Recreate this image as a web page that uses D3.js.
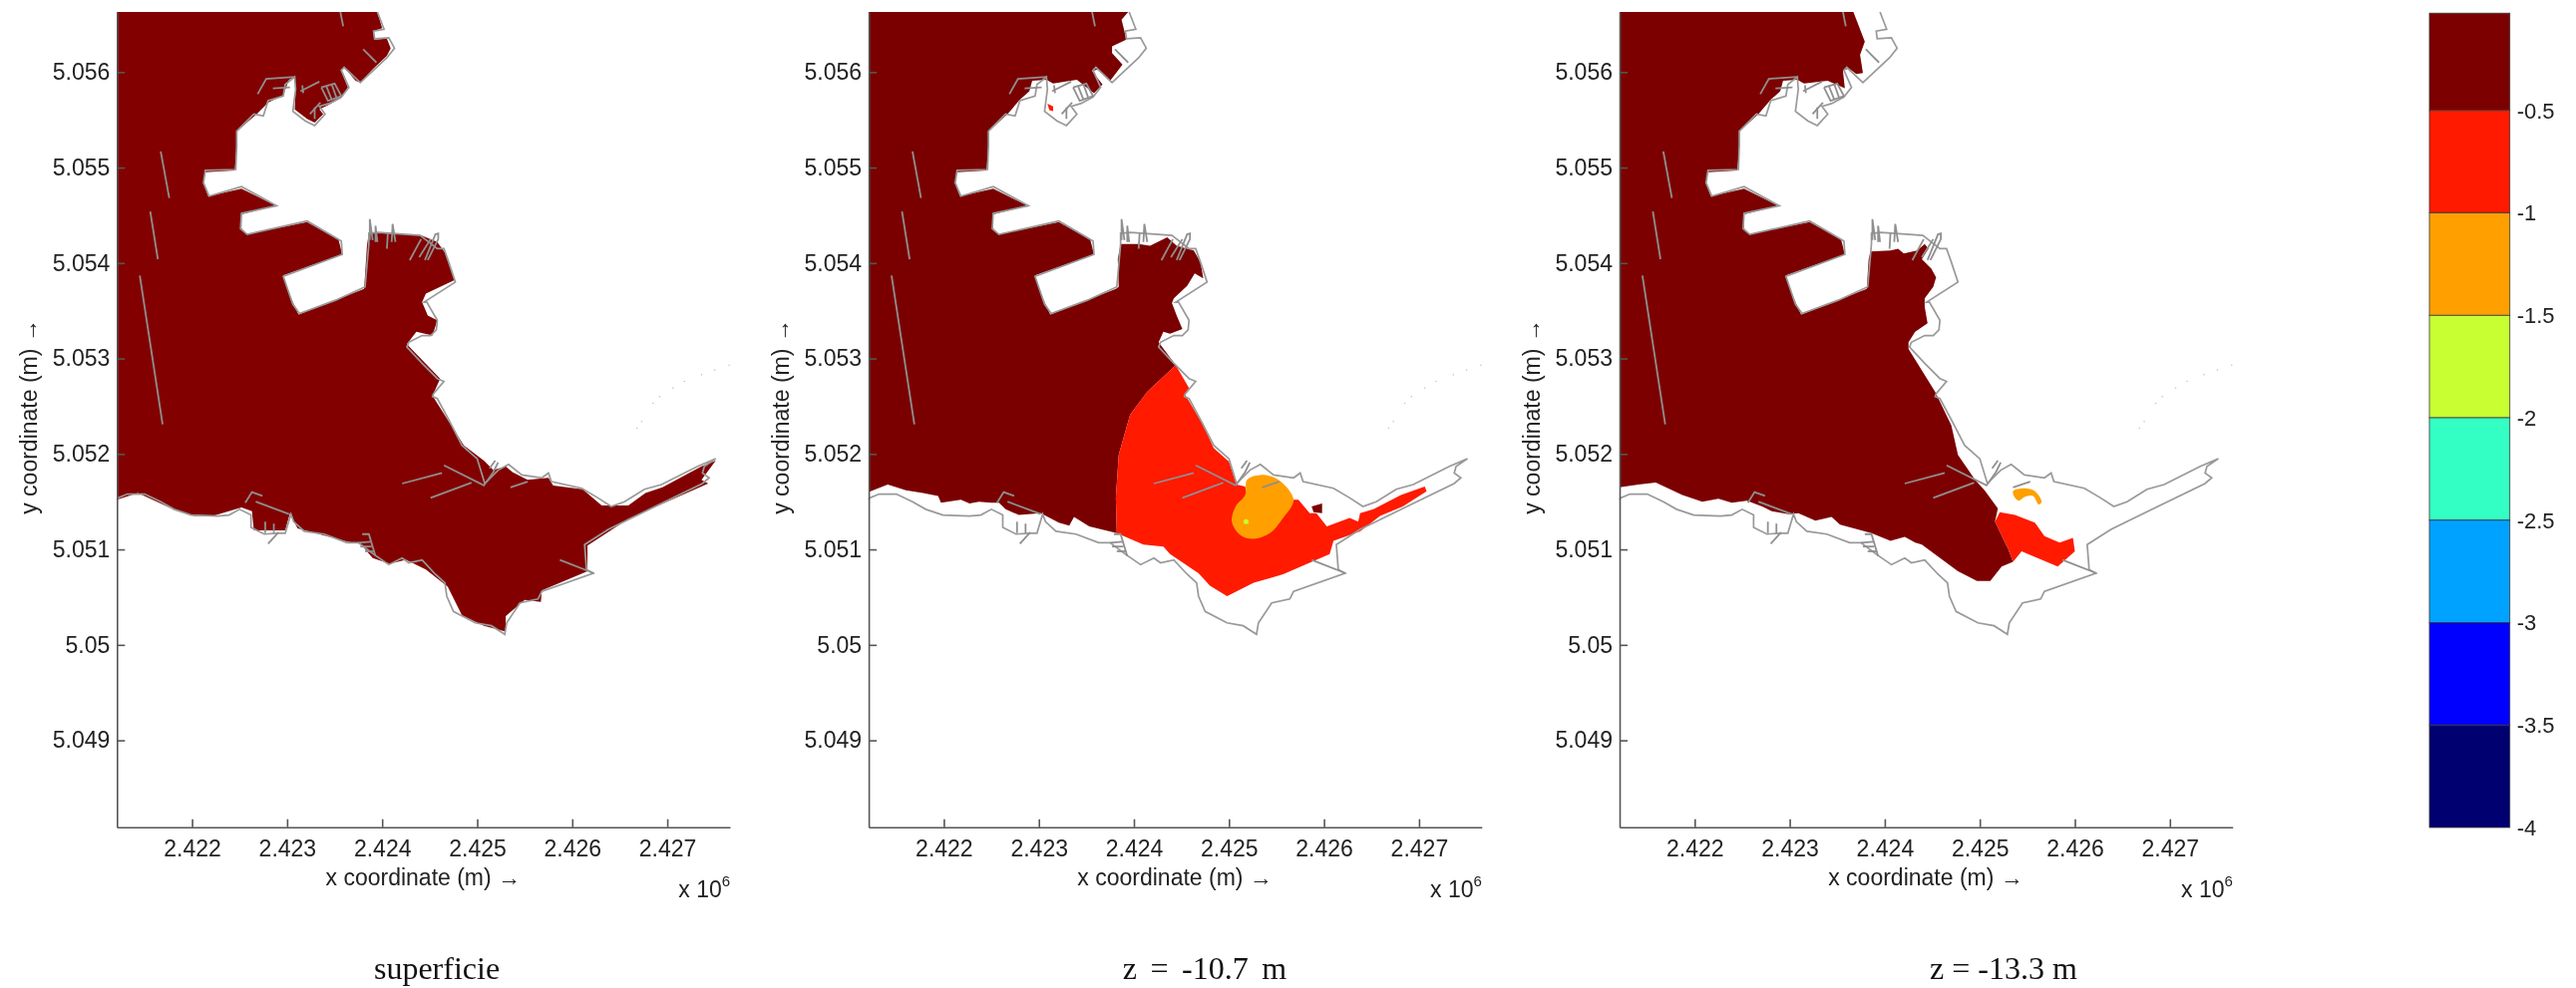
<!DOCTYPE html>
<html>
<head>
<meta charset="utf-8">
<script src="https://cdn.jsdelivr.net/npm/d3@7"></script>
<style>
  html, body { margin: 0; background: #fff; }
  svg { display: block; filter: blur(0.5px); }
  .axis path, .axis line { stroke: #555; stroke-width: 1.6; }
  .axis text { font: 23px "Liberation Sans", Arial, sans-serif; fill: #222; }
  .lab { font: 23px "Liberation Sans", Arial, sans-serif; fill: #222; }
  .cap { font: 32px "Liberation Serif", "Times New Roman", serif; fill: #111; }
</style>
</head>
<body>
<svg id="chart" width="2583" height="991"></svg>
<script>
// all map positions are in km (Gauss-Boaga style easting / northing)
const xTicks = [2422, 2423, 2424, 2425, 2426, 2427];
const xTickLabels = ["2.422", "2.423", "2.424", "2.425", "2.426", "2.427"];
const yTicks = [5049, 5050, 5051, 5052, 5053, 5054, 5055, 5056];
const yTickLabels = ["5.049", "5.05", "5.051", "5.052", "5.053", "5.054", "5.055", "5.056"];

const captions = ["superficie", "z = -10.7 m", "z = -13.3 m"];

const levelEdges = [-0.025, -0.5, -1, -1.5, -2, -2.5, -3, -3.5, -4];
const levelColors = ["#7c0000", "#ff1a00", "#ffa000", "#c8ff33", "#33ffc4", "#00a2ff", "#0000ff", "#000070"];
const levelTicks = [-0.5, -1, -1.5, -2, -2.5, -3, -3.5, -4];

// shore of the western basins, shared by the three water areas
const harbourShore = [[2422.47,5055.38],[2422.47,5055.23],[2422.45,5054.97],[2422.14,5054.95],[2422.12,5054.84],[2422.17,5054.70],[2422.52,5054.78],[2422.88,5054.60],[2422.52,5054.51],[2422.52,5054.36],[2422.57,5054.30],[2423.21,5054.43],[2423.54,5054.25],[2423.58,5054.09],[2422.96,5053.87],[2423.03,5053.66],[2423.12,5053.46],[2423.81,5053.73]];

const surfaceNorth = [[2421.21,5056.63],[2423.95,5056.63],[2424.00,5056.46],[2423.91,5056.43],[2423.92,5056.34],[2424.05,5056.35],[2424.09,5056.25],[2424.05,5056.17],[2423.90,5056.03],[2423.77,5055.89],[2423.72,5055.91],[2423.60,5056.05],[2423.57,5056.01],[2423.64,5055.84],[2423.57,5055.73],[2423.44,5055.66],[2423.34,5055.61],[2423.38,5055.56],[2423.29,5055.47],[2423.21,5055.51],[2423.08,5055.61],[2423.09,5055.82],[2423.08,5055.95],[2423.02,5055.92],[2422.96,5055.76],[2422.80,5055.68],[2422.68,5055.56]];
const surfaceEast = [[2423.84,5054.18],[2423.86,5054.32],[2424.41,5054.29],[2424.58,5054.22],[2424.66,5054.11],[2424.76,5053.82],[2424.46,5053.68],[2424.42,5053.59],[2424.48,5053.45],[2424.58,5053.40],[2424.53,5053.24],[2424.36,5053.28],[2424.26,5053.15],[2424.61,5052.79],[2424.53,5052.61],[2424.86,5052.09],[2425.07,5051.93],[2425.17,5051.83],[2425.30,5051.87],[2425.37,5051.81],[2425.53,5051.73],[2425.75,5051.75],[2425.80,5051.67],[2426.11,5051.63],[2426.31,5051.46],[2426.59,5051.46],[2426.77,5051.59],[2426.95,5051.65],[2427.36,5051.87],[2427.51,5051.93],[2427.36,5051.73],[2427.43,5051.69],[2426.59,5051.32],[2426.16,5051.04],[2426.16,5050.77],[2425.68,5050.57],[2425.67,5050.45],[2425.50,5050.47],[2425.30,5050.30],[2425.30,5050.14],[2425.07,5050.20],[2424.84,5050.31],[2424.69,5050.61],[2424.46,5050.79],[2424.25,5050.89],[2424.08,5050.85],[2423.90,5050.91],[2423.77,5051.06],[2423.64,5051.08],[2423.11,5051.22],[2423.03,5051.38],[2422.98,5051.20],[2422.65,5051.20],[2422.63,5051.40],[2422.52,5051.44],[2422.22,5051.35],[2422.02,5051.35],[2421.76,5051.44],[2421.43,5051.59],[2421.21,5051.52]];

// z = -10.7 m
const midNorth = [[2421.21,5056.63],[2423.94,5056.63],[2423.87,5056.55],[2423.90,5056.43],[2423.92,5056.34],[2423.77,5056.27],[2423.77,5056.20],[2423.88,5056.08],[2423.75,5055.91],[2423.63,5056.03],[2423.56,5056.01],[2423.67,5055.87],[2423.58,5055.78],[2423.40,5055.92],[2423.15,5055.88],[2423.08,5055.92],[2422.93,5055.91],[2422.90,5055.80],[2422.80,5055.71],[2422.67,5055.56]];
const midEast = [[2423.84,5053.75],[2423.83,5054.04],[2423.86,5054.20],[2424.05,5054.20],[2424.17,5054.18],[2424.35,5054.27],[2424.45,5054.18],[2424.63,5054.13],[2424.70,5054.01],[2424.73,5053.84],[2424.64,5053.89],[2424.56,5053.76],[2424.42,5053.63],[2424.40,5053.58],[2424.45,5053.45],[2424.51,5053.31],[2424.38,5053.26],[2424.31,5053.28],[2424.26,5053.17],[2424.44,5052.93],[2424.14,5052.65],[2423.96,5052.41],[2423.84,5051.99],[2423.81,5051.54],[2423.82,5051.17],[2423.53,5051.24],[2423.37,5051.34],[2423.32,5051.25],[2423.21,5051.28],[2423.02,5051.38],[2422.79,5051.36],[2422.65,5051.42],[2422.58,5051.49],[2422.50,5051.49],[2422.37,5051.50],[2422.27,5051.48],[2422.18,5051.52],[2421.97,5051.49],[2421.94,5051.56],[2421.78,5051.59],[2421.60,5051.62],[2421.41,5051.68],[2421.21,5051.60]];
const midRed = [[2424.44,5052.93],[2424.58,5052.69],[2424.54,5052.62],[2424.73,5052.30],[2424.84,5052.06],[2425.00,5051.92],[2425.08,5051.68],[2425.17,5051.66],[2425.19,5051.57],[2425.68,5051.52],[2425.73,5051.52],[2425.85,5051.38],[2425.92,5051.38],[2426.03,5051.24],[2426.27,5051.33],[2426.36,5051.29],[2426.38,5051.38],[2426.52,5051.42],[2426.81,5051.57],[2427.06,5051.66],[2427.08,5051.61],[2426.83,5051.45],[2426.59,5051.35],[2426.38,5051.19],[2426.10,5051.09],[2426.06,5050.95],[2425.57,5050.74],[2425.26,5050.65],[2424.98,5050.51],[2424.80,5050.62],[2424.68,5050.75],[2424.38,5050.95],[2424.31,5051.03],[2424.10,5051.05],[2423.82,5051.17],[2423.81,5051.54],[2423.84,5051.99],[2423.96,5052.41],[2424.14,5052.65]];
const midOrange = [[2425.19,5051.73],[2425.33,5051.78],[2425.52,5051.73],[2425.68,5051.52],[2425.57,5051.33],[2425.43,5051.17],[2425.26,5051.11],[2425.12,5051.15],[2425.03,5051.29],[2425.07,5051.45],[2425.17,5051.57]];
const midDarkSpot = [[2425.87,5051.45],[2425.98,5051.48],[2425.98,5051.38],[2425.89,5051.39]];
const midRedSpot = [[2423.09,5055.67],[2423.15,5055.64],[2423.15,5055.59],[2423.11,5055.60]];
const midMaxPoint = [2425.18, 5051.29];

// z = -13.3 m
const deepNorth = [[2421.21,5056.63],[2423.67,5056.63],[2423.79,5056.32],[2423.74,5056.18],[2423.77,5055.99],[2423.70,5055.98],[2423.62,5056.04],[2423.56,5056.01],[2423.58,5055.83],[2423.44,5055.89],[2423.40,5055.91],[2423.15,5055.88],[2423.08,5055.92],[2422.93,5055.91],[2422.90,5055.80],[2422.80,5055.71],[2422.67,5055.56]];
const deepEast = [[2423.81,5053.73],[2423.83,5054.04],[2423.85,5054.12],[2424.06,5054.13],[2424.14,5054.15],[2424.20,5054.10],[2424.34,5054.13],[2424.42,5054.20],[2424.46,5054.15],[2424.39,5054.04],[2424.49,5053.94],[2424.54,5053.85],[2424.51,5053.75],[2424.42,5053.63],[2424.42,5053.54],[2424.45,5053.37],[2424.32,5053.28],[2424.25,5053.17],[2424.25,5053.10],[2424.53,5052.65],[2424.70,5052.30],[2424.77,5051.99],[2424.95,5051.73],[2425.05,5051.62],[2425.19,5051.43],[2425.16,5051.29],[2425.30,5051.00],[2425.35,5050.87],[2425.23,5050.82],[2425.11,5050.67],[2424.97,5050.67],[2424.77,5050.77],[2424.39,5051.05],[2424.32,5051.07],[2424.21,5051.13],[2424.06,5051.09],[2423.86,5051.17],[2423.53,5051.26],[2423.44,5051.34],[2423.27,5051.30],[2423.09,5051.38],[2422.99,5051.37],[2422.81,5051.40],[2422.71,5051.45],[2422.55,5051.51],[2422.39,5051.49],[2422.25,5051.53],[2422.08,5051.50],[2421.87,5051.57],[2421.59,5051.70],[2421.41,5051.68],[2421.21,5051.65]];
const deepRed = [[2425.16,5051.29],[2425.21,5051.39],[2425.37,5051.36],[2425.58,5051.28],[2425.68,5051.14],[2425.84,5051.07],[2425.98,5051.12],[2426.00,5050.98],[2425.82,5050.82],[2425.44,5050.98],[2425.35,5050.87],[2425.30,5051.00]];
const deepOrange = [[2425.35,5051.61],[2425.47,5051.64],[2425.58,5051.61],[2425.65,5051.50],[2425.62,5051.47],[2425.56,5051.56],[2425.47,5051.55],[2425.41,5051.51],[2425.37,5051.54]];

const coastline = [[2421.21,5051.52],[2421.22,5051.54],[2421.32,5051.58],[2421.50,5051.58],[2421.67,5051.50],[2421.81,5051.42],[2421.99,5051.36],[2422.27,5051.35],[2422.39,5051.36],[2422.50,5051.42],[2422.62,5051.36],[2422.62,5051.23],[2422.76,5051.16],[2422.90,5051.17],[2422.98,5051.17],[2423.04,5051.37],[2423.07,5051.29],[2423.18,5051.19],[2423.39,5051.16],[2423.63,5051.07],[2423.75,5051.07],[2423.91,5050.95],[2424.07,5050.84],[2424.21,5050.91],[2424.28,5050.86],[2424.42,5050.89],[2424.56,5050.74],[2424.66,5050.65],[2424.68,5050.51],[2424.75,5050.35],[2424.98,5050.23],[2425.15,5050.20],[2425.29,5050.11],[2425.31,5050.23],[2425.45,5050.44],[2425.64,5050.48],[2425.68,5050.56],[2426.22,5050.75],[2426.15,5050.79],[2426.13,5051.05],[2426.38,5051.21],[2426.83,5051.43],[2427.37,5051.69],[2427.44,5051.75],[2427.37,5051.80],[2427.39,5051.87],[2427.51,5051.95],[2427.32,5051.87],[2426.94,5051.68],[2426.76,5051.63],[2426.55,5051.50],[2426.41,5051.45],[2426.27,5051.54],[2426.10,5051.64],[2425.78,5051.71],[2425.75,5051.80],[2425.68,5051.75],[2425.47,5051.78],[2425.33,5051.89],[2425.22,5051.83],[2425.08,5051.69],[2425.00,5051.95],[2424.84,5052.09],[2424.70,5052.36],[2424.58,5052.58],[2424.53,5052.60],[2424.54,5052.63],[2424.65,5052.76],[2424.58,5052.79],[2424.42,5052.95],[2424.26,5053.12],[2424.28,5053.17],[2424.42,5053.24],[2424.51,5053.24],[2424.57,5053.30],[2424.58,5053.40],[2424.47,5053.59],[2424.44,5053.59],[2424.77,5053.80],[2424.70,5054.01],[2424.65,5054.15],[2424.58,5054.15],[2424.40,5054.29],[2423.96,5054.32],[2423.86,5054.31],[2423.86,5054.20],[2423.82,5053.75],[2423.51,5053.61],[2423.13,5053.47],[2423.06,5053.57],[2422.96,5053.86],[2423.58,5054.09],[2423.57,5054.23],[2423.21,5054.44],[2422.58,5054.30],[2422.51,5054.36],[2422.52,5054.52],[2422.89,5054.60],[2422.52,5054.80],[2422.18,5054.70],[2422.12,5054.84],[2422.14,5054.97],[2422.46,5054.98],[2422.47,5055.23],[2422.47,5055.38],[2422.65,5055.56],[2422.75,5055.54],[2422.80,5055.70],[2422.96,5055.75],[2422.98,5055.87],[2423.08,5055.95],[2423.09,5055.82],[2423.06,5055.59],[2423.19,5055.49],[2423.29,5055.44],[2423.40,5055.56],[2423.34,5055.64],[2423.44,5055.67],[2423.57,5055.74],[2423.65,5055.84],[2423.57,5056.02],[2423.60,5056.05],[2423.77,5055.89],[2424.05,5056.15],[2424.13,5056.25],[2424.07,5056.36],[2423.92,5056.35],[2423.91,5056.43],[2424.02,5056.45],[2423.95,5056.63]];

// dams, jetties and piers, same in all panels
const jetties = [
  [[2421.67,5055.17],[2421.76,5054.68]],
  [[2421.56,5054.54],[2421.64,5054.04]],
  [[2421.45,5053.87],[2421.69,5052.31]],
  [[2423.56,5056.63],[2423.59,5056.48]],
  [[2423.80,5056.24],[2423.94,5056.10]],
  [[2422.69,5055.77],[2422.78,5055.93],[2423.08,5055.95]],
  [[2423.36,5055.84],[2423.50,5055.88],[2423.57,5055.75],[2423.43,5055.70],[2423.36,5055.84]],
  [[2423.41,5055.86],[2423.47,5055.71]],
  [[2423.47,5055.87],[2423.52,5055.73]],
  [[2423.14,5055.80],[2423.34,5055.90]],
  [[2423.16,5055.86],[2423.17,5055.78]],
  [[2422.85,5055.83],[2423.03,5055.84]],
  [[2423.24,5055.56],[2423.35,5055.68]],
  [[2423.29,5055.63],[2423.29,5055.51]],
  [[2423.87,5054.24],[2423.87,5054.46],[2423.90,5054.24]],
  [[2423.93,5054.22],[2423.93,5054.39],[2423.95,5054.22]],
  [[2424.10,5054.22],[2424.11,5054.41],[2424.14,5054.22]],
  [[2424.05,5054.15],[2424.06,5054.31]],
  [[2424.29,5054.03],[2424.41,5054.25]],
  [[2424.39,5054.06],[2424.51,5054.25]],
  [[2424.45,5054.03],[2424.56,5054.30],[2424.59,5054.31],[2424.59,5054.25],[2424.48,5054.03]],
  [[2424.21,5051.69],[2424.63,5051.80]],
  [[2424.65,5051.88],[2425.07,5051.67],[2425.17,5051.81],[2425.22,5051.91]],
  [[2425.13,5051.85],[2425.19,5051.93]],
  [[2424.51,5051.54],[2424.94,5051.70]],
  [[2425.35,5051.65],[2425.53,5051.71]],
  [[2425.87,5050.89],[2426.23,5050.75]],
  [[2422.80,5051.06],[2422.91,5051.18]],
  [[2422.56,5051.49],[2422.63,5051.60],[2422.74,5051.56]],
  [[2422.67,5051.50],[2423.02,5051.37]],
  [[2422.77,5051.29],[2422.77,5051.17]],
  [[2422.86,5051.27],[2422.86,5051.17]],
  [[2423.79,5051.16],[2423.86,5051.16],[2423.93,5050.93]],
  [[2423.75,5051.07],[2423.88,5051.08]],
  [[2423.77,5051.03],[2423.89,5051.03]],
  [[2423.82,5050.98],[2423.91,5050.98]]
];

// faint offshore buoys
const buoys = [[2426.68,5052.27],[2426.73,5052.34],[2426.85,5052.53],[2426.92,5052.60],[2427.06,5052.69],[2427.18,5052.76],[2427.36,5052.83],[2427.50,5052.88],[2427.65,5052.93]];

const panelLeft = [117.3, 871.1, 1624];
const panelTop = 12, panelWidth = 614.7, panelHeight = 817.7;

const svg = d3.select("#chart");

const x = d3.scaleLinear().domain([2421.21, 2427.66]).range([0, panelWidth]);
const y = d3.scaleLinear().domain([5048.09, 5056.63]).range([panelHeight, 0]);
const ring = d3.line().x(d => x(d[0])).y(d => y(d[1])).curve(d3.curveLinearClosed);
const smooth = d3.line().x(d => x(d[0])).y(d => y(d[1])).curve(d3.curveCatmullRomClosed);
const open = d3.line().x(d => x(d[0])).y(d => y(d[1]));

function drawPanel(i, fills){
    let g = svg.append("g").attr("transform", `translate(${panelLeft[i]},${panelTop})`);

    fills.forEach(f => {
        g.append("path")
            .attr("d", (f.round ? smooth : ring)(f.pts))
            .attr("fill", f.color);
    });

    if (i === 1) {
        g.append("circle")
            .attr("cx", x(midMaxPoint[0]))
            .attr("cy", y(midMaxPoint[1]))
            .attr("r", 2.5)
            .attr("fill", levelColors[3]);
    }

    g.append("path")
        .attr("d", open(coastline))
        .attr("fill", "none")
        .attr("stroke", "#999")
        .attr("stroke-width", 1.7);

    g.selectAll(".jetty").data(jetties).join("path")
        .attr("class", "jetty")
        .attr("d", open)
        .attr("fill", "none")
        .attr("stroke", "#8f8f8f")
        .attr("stroke-width", 1.8);

    g.selectAll(".buoy").data(buoys).join("circle")
        .attr("class", "buoy")
        .attr("cx", d => x(d[0]))
        .attr("cy", d => y(d[1]))
        .attr("r", 0.8)
        .attr("fill", "#c4c4c4");

    // axes, ticks point inwards as in matlab
    g.append("g")
        .attr("class", "axis")
        .attr("transform", `translate(0,${panelHeight})`)
        .call(d3.axisBottom(x).tickValues(xTicks)
            .tickFormat((d, k) => xTickLabels[k])
            .tickSizeInner(-8).tickSizeOuter(0).tickPadding(13));

    g.append("g")
        .attr("class", "axis")
        .call(d3.axisLeft(y).tickValues(yTicks)
            .tickFormat((d, k) => yTickLabels[k])
            .tickSizeInner(-8).tickSizeOuter(0).tickPadding(7));

    g.append("text")
        .attr("class", "lab")
        .attr("x", 307)
        .attr("y", panelHeight + 58)
        .attr("text-anchor", "middle")
        .text("x coordinate (m) \u2192");

    g.append("text")
        .attr("class", "lab")
        .attr("transform", `translate(-80,406) rotate(-90)`)
        .attr("text-anchor", "middle")
        .text("y coordinate (m) \u2192");

    let e = g.append("text")
        .attr("class", "lab")
        .attr("x", 563)
        .attr("y", panelHeight + 70)
        .style("font-size", "23px")
        .text("x 10");
    e.append("tspan")
        .attr("dy", -11)
        .style("font-size", "15px")
        .text("6");
}

drawPanel(0, [
    { pts: surfaceNorth.concat(harbourShore, surfaceEast), color: "#820000" }
]);

drawPanel(1, [
    { pts: midNorth.concat(harbourShore, midEast), color: "#7a0000" },
    { pts: midRed, color: levelColors[1] },
    { pts: midRedSpot, color: levelColors[1] },
    { pts: midDarkSpot, color: "#7a0000" },
    { pts: midOrange, color: levelColors[2], round: true }
]);

drawPanel(2, [
    { pts: deepNorth.concat(harbourShore, deepEast), color: "#7c0000" },
    { pts: deepRed, color: levelColors[1] },
    { pts: deepOrange, color: levelColors[2], round: true }
]);

// bottom captions, the middle one is set wider in the original
const captionX = [438, 1208, 2009];
const captionWordGap = [0, 5.5, 0];
svg.selectAll(".cap").data(captions).join("text")
    .attr("class", "cap")
    .attr("x", (d, i) => captionX[i])
    .attr("y", 982)
    .attr("text-anchor", "middle")
    .style("word-spacing", (d, i) => captionWordGap[i] + "px")
    .text(d => d);

// colour bar
const barLeft = 2436, barWidth = 80.7;
const c = d3.scaleLinear().domain([-4, -0.5]).range([830, 110.8]);

const bar = svg.append("g");
bar.selectAll("rect").data(levelColors).join("rect")
    .attr("x", barLeft)
    .attr("width", barWidth)
    .attr("y", (d, i) => c(levelEdges[i]))
    .attr("height", (d, i) => c(levelEdges[i + 1]) - c(levelEdges[i]))
    .attr("fill", d => d)
    .attr("stroke", "#3a3a3a")
    .attr("stroke-width", 0.8);

bar.selectAll("text").data(levelTicks).join("text")
    .attr("class", "lab")
    .attr("x", barLeft + barWidth + 7)
    .attr("y", d => c(d))
    .attr("dy", "0.36em")
    .style("font-size", "22px")
    .text(d => d);
</script>
</body>
</html>
